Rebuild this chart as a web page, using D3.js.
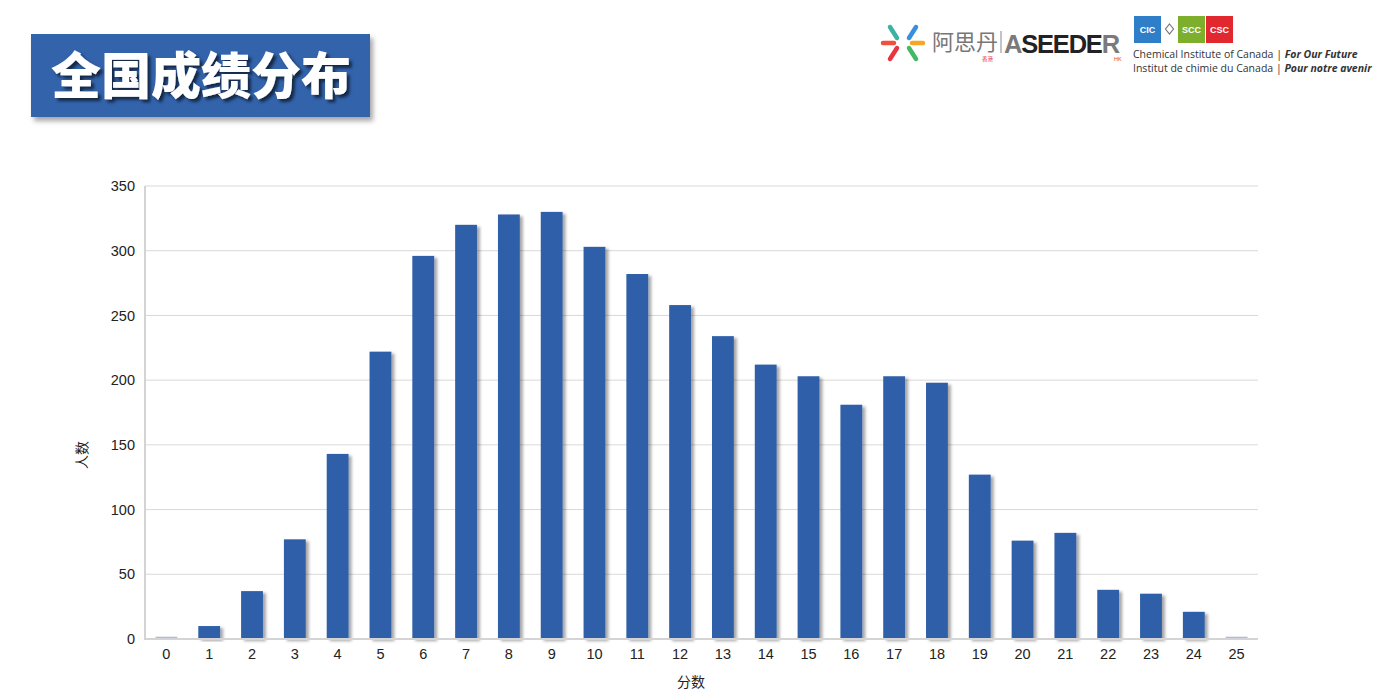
<!DOCTYPE html>
<html><head><meta charset="utf-8">
<script src="https://cdn.jsdelivr.net/npm/d3@7"></script>
<style>body{margin:0;background:#fff;overflow:hidden}svg{display:block}</style>
</head><body>
<svg id="c" width="1384" height="700"></svg>
<script>
const categories = ["0","1","2","3","4","5","6","7","8","9","10","11","12","13","14","15","16","17","18","19","20","21","22","23","24","25"];
const counts = [1,10,37,77,143,222,296,320,328,330,303,282,258,234,212,203,181,203,198,127,76,82,38,35,21,1];
const yTicks = [0,50,100,150,200,250,300,350];
const titleText = "全国成绩分布";
const xTitle = "分数";
const yTitle = "人数";

const svg = d3.select("#c");
const defs = svg.append("defs");
const f1 = defs.append("filter").attr("id","bs").attr("x","-20%").attr("y","-20%").attr("width","160%").attr("height","140%");
f1.append("feDropShadow").attr("dx",3).attr("dy",2).attr("stdDeviation",1.6).attr("flood-color","#000").attr("flood-opacity",0.35);
const f2 = defs.append("filter").attr("id","ts").attr("x","-20%").attr("y","-20%").attr("width","140%").attr("height","160%");
f2.append("feDropShadow").attr("dx",3).attr("dy",3).attr("stdDeviation",1.5).attr("flood-color","#000").attr("flood-opacity",0.6);
const f3 = defs.append("filter").attr("id","boxs").attr("x","-10%").attr("y","-10%").attr("width","130%").attr("height","140%");
f3.append("feDropShadow").attr("dx",3).attr("dy",4).attr("stdDeviation",2.5).attr("flood-color","#000").attr("flood-opacity",0.35);

// Title box
svg.append("rect").attr("x",31).attr("y",34).attr("width",339).attr("height",83).attr("fill","#3163ab").attr("filter","url(#boxs)");
svg.append("text").attr("x",201).attr("y",94).attr("text-anchor","middle")
  .attr("font-family","Noto Sans CJK SC").attr("font-weight",900).attr("font-size",50)
  .attr("fill","#fff").attr("filter","url(#ts)").text(titleText);

// Logos
const lg = svg.append("g");
const lcx=903, lcy=43;
const spokes=[[-20,0,-9,0,"#f0513c"],[9,0,20,0,"#f5a623"],[6,-5,13,-16,"#3a8ee0"],[-6,-5,-13,-16,"#3bb3a0"],[-6,5,-13,16,"#e8353e"],[6,5,13,16,"#45b866"]];
spokes.forEach(s=>lg.append("line").attr("x1",lcx+s[0]).attr("y1",lcy+s[1]).attr("x2",lcx+s[2]).attr("y2",lcy+s[3]).attr("stroke",s[4]).attr("stroke-width",4.5).attr("stroke-linecap","round"));
lg.append("text").attr("x",932).attr("y",50).attr("font-family","Noto Sans CJK SC").attr("font-size",22).attr("fill","#777").text("阿思丹");
lg.append("text").attr("x",982).attr("y",61).attr("font-family","Noto Sans CJK SC").attr("font-size",5.5).attr("fill","#e8353e").text("香港");
lg.append("line").attr("x1",1001).attr("y1",31).attr("x2",1001).attr("y2",53).attr("stroke","#888").attr("stroke-width",1);
const at = lg.append("text").attr("x",1004).attr("y",53).attr("font-family","Liberation Sans").attr("font-weight","bold").attr("font-size",25.5).attr("letter-spacing",-1.2);
at.append("tspan").attr("fill","#7a7a7a").text("A");
at.append("tspan").attr("fill","#222").text("SEEDE");
at.append("tspan").attr("fill","#7a7a7a").text("R");
lg.append("text").attr("x",1114).attr("y",61).attr("font-family","Liberation Sans").attr("font-size",5.5).attr("fill","#e8353e").text("HK");
// CIC squares
lg.append("rect").attr("x",1134).attr("y",16).attr("width",27).attr("height",27).attr("fill","#2f7fc8");
lg.append("rect").attr("x",1178).attr("y",16).attr("width",27).attr("height",27).attr("fill","#7dae2c");
lg.append("rect").attr("x",1206).attr("y",16).attr("width",27).attr("height",27).attr("fill","#e0282e");
[[1147.5,"CIC"],[1191.5,"SCC"],[1219.5,"CSC"]].forEach(d=>lg.append("text").attr("x",d[0]).attr("y",33).attr("text-anchor","middle").attr("font-family","Liberation Sans").attr("font-weight","bold").attr("font-size",9).attr("fill","#fff").text(d[1]));
lg.append("path").attr("d","M1169.5,24 l4,5 l-4,5 l-4,-5z").attr("fill","none").attr("stroke","#777").attr("stroke-width",1.2);
const l1 = lg.append("text").attr("x",1133).attr("y",58).attr("font-family","Open Sans").attr("font-size",10.5).attr("fill","#333");
l1.append("tspan").text("Chemical Institute of Canada | ");
l1.append("tspan").attr("font-weight","bold").attr("font-style","italic").text("For Our Future");
const l2 = lg.append("text").attr("x",1133).attr("y",72).attr("font-family","Open Sans").attr("font-size",10.5).attr("fill","#333");
l2.append("tspan").text("Institut de chimie du Canada | ");
l2.append("tspan").attr("font-weight","bold").attr("font-style","italic").text("Pour notre avenir");

// Chart
const pLeft=145, pRight=1258, pTop=186, pBottom=639;
const x = d3.scaleBand().domain(categories).range([pLeft,pRight]).paddingInner(0.49).paddingOuter(0.245);
const y = d3.scaleLinear().domain([0,350]).range([pBottom,pTop]);

const grid = svg.append("g");
grid.selectAll("line").data(yTicks.filter(t=>t>0)).join("line")
  .attr("x1",pLeft).attr("x2",pRight).attr("y1",d=>y(d)).attr("y2",d=>y(d))
  .attr("stroke","#d9d9d9").attr("stroke-width",1);

svg.append("g").selectAll("rect").data(counts).join("rect")
  .attr("x",(d,i)=>x(categories[i])).attr("width",x.bandwidth())
  .attr("y",d=>y(d)-(d<=1?1:0)).attr("height",d=>pBottom-y(d)+(d<=1?1:0))
  .attr("fill",(d,i)=>d<=1?"#a9bde3":"#2e5fa8").attr("filter",(d)=>d<=1?null:"url(#bs)");

// axes
const yAxis = svg.append("g").attr("transform",`translate(${pLeft},0)`).call(d3.axisLeft(y).tickValues(yTicks).tickSize(0).tickPadding(10));
yAxis.select(".domain").remove();
yAxis.selectAll("text").attr("font-family","Liberation Sans").attr("font-size",14.5).attr("fill","#222");
const xAxis = svg.append("g").attr("transform",`translate(0,${pBottom})`).call(d3.axisBottom(x).tickSize(0).tickPadding(10));
xAxis.select(".domain").remove();
xAxis.selectAll("text").attr("font-family","Liberation Sans").attr("font-size",14.5).attr("fill","#222");

svg.append("line").attr("x1",pLeft).attr("x2",pLeft).attr("y1",pTop).attr("y2",pBottom+1).attr("stroke","#d4d4d4").attr("stroke-width",2);
svg.append("line").attr("x1",pLeft-1).attr("x2",pRight).attr("y1",pBottom).attr("y2",pBottom).attr("stroke","#d4d4d4").attr("stroke-width",2);

svg.append("text").attr("x",691).attr("y",687).attr("text-anchor","middle").attr("font-family","Noto Sans CJK SC").attr("font-size",14).attr("fill","#222").text(xTitle);
svg.append("text").attr("transform","translate(87,455) rotate(-90)").attr("text-anchor","middle").attr("font-family","Noto Sans CJK SC").attr("font-size",14).attr("fill","#222").text(yTitle);
</script>
</body></html>
